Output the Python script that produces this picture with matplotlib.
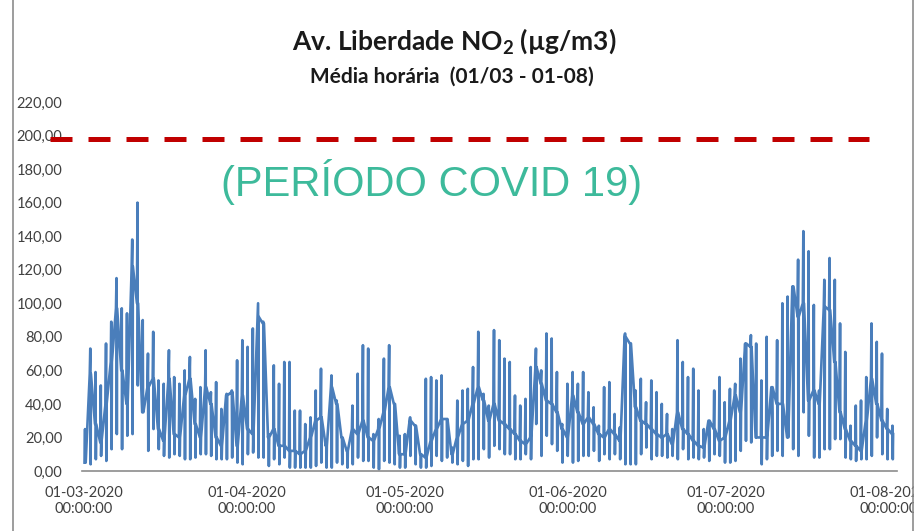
import datetime as dt
import numpy as np
import matplotlib
matplotlib.use("Agg")
import matplotlib.pyplot as plt
import matplotlib.dates as mdates

# picos diários, mínimos e nível médio (µg/m3)
pico = [25, 73, 59, 51, 76, 89, 115, 97, 94, 138,
        160, 90, 70, 83, 54, 52, 72, 56, 52, 60,
        68, 43, 50, 72, 47, 53, 37, 46, 48, 66,
        78, 74, 85, 100, 89, 22, 63, 52, 65, 65,
        36, 36, 28, 32, 48, 61, 18, 57, 42, 20,
        12, 39, 58, 75, 73, 22, 31, 67, 75, 40,
        21, 22, 32, 27, 10, 55, 56, 54, 57, 31,
        14, 42, 48, 49, 62, 83, 46, 39, 84, 78,
        67, 65, 45, 39, 43, 62, 73, 60, 82, 79,
        59, 28, 52, 59, 52, 59, 47, 38, 27, 50,
        53, 34, 26, 82, 76, 48, 55, 41, 54, 47,
        40, 34, 25, 78, 65, 56, 61, 48, 25, 20,
        48, 56, 41, 49, 52, 67, 63, 81, 76, 54,
        80, 35, 78, 100, 104, 87, 126, 143, 131, 99,
        48, 114, 127, 114, 88, 71, 27, 39, 42, 56,
        88, 77, 70, 37, 27]
baixo = [5, 4, 7, 9, 6, 13, 22, 13, 21, 22,
         51, 36, 12, 25, 13, 9, 8, 10, 9, 7,
         7, 8, 10, 10, 9, 7, 7, 7, 8, 5,
         4, 10, 11, 8, 8, 3, 7, 4, 8, 2,
         2, 2, 2, 2, 3, 5, 2, 2, 5, 4,
         2, 4, 8, 6, 6, 2, 1, 6, 5, 4,
         2, 2, 9, 4, 2, 2, 3, 9, 6, 8,
         5, 4, 6, 3, 7, 7, 13, 8, 15, 13,
         10, 10, 7, 7, 10, 7, 28, 9, 21, 16,
         12, 5, 9, 5, 6, 9, 9, 12, 6, 10,
         7, 10, 7, 4, 4, 4, 10, 14, 7, 9,
         9, 8, 9, 7, 13, 7, 8, 7, 8, 6,
         10, 9, 5, 5, 6, 12, 18, 17, 20, 4,
         7, 9, 12, 9, 30, 13, 9, 35, 21, 8,
         8, 13, 13, 19, 19, 8, 7, 6, 7, 7,
         9, 20, 10, 7, 7]
meio = [5, 58, 28, 17, 40, 65, 97, 60, 40, 122,
        100, 35, 50, 55, 25, 18, 55, 22, 20, 45,
        55, 28, 20, 50, 40, 20, 15, 45, 47, 15,
        45, 25, 22, 92, 88, 20, 25, 15, 15, 12,
        12, 10, 12, 20, 30, 32, 15, 50, 40, 20,
        12, 25, 22, 30, 20, 18, 25, 35, 50, 40,
        10, 10, 30, 27, 10, 8, 18, 25, 31, 31,
        10, 20, 28, 30, 40, 50, 42, 30, 40, 30,
        28, 25, 22, 18, 16, 20, 62, 52, 42, 40,
        35, 25, 20, 45, 35, 28, 32, 28, 22, 20,
        25, 22, 18, 80, 76, 38, 30, 28, 25, 22,
        20, 22, 16, 35, 25, 22, 18, 15, 14, 30,
        25, 18, 20, 30, 45, 35, 76, 74, 20, 20,
        20, 50, 40, 40, 20, 110, 92, 100, 42, 48,
        40, 98, 96, 65, 35, 25, 18, 15, 12, 30,
        55, 40, 30, 25, 22]
limite = 198
meses = ["2020-03-01", "2020-04-01", "2020-05-01", "2020-06-01", "2020-07-01", "2020-08-01"]

inicio = dt.datetime(2020, 3, 1)
t0 = mdates.date2num(inicio)
n = len(pico)
dia = 0.2 + np.arange(n) * (153.5 / (n - 1))

xs, ys = [], []
for d, p, b, m in zip(dia, pico, baixo, meio):
    xs += [d - 0.1, d, d + 0.06, d + 0.12]
    ys += [m, p, b, m]
xs = t0 + np.array(xs)

plt.rcParams["font.family"] = ["Lato", "DejaVu Sans"]
plt.rcParams["mathtext.fontset"] = "custom"
plt.rcParams["mathtext.bf"] = "Lato:bold"
plt.rcParams["mathtext.rm"] = "Lato"

W, H = 914, 531
fig = plt.figure(figsize=(W / 100, H / 100), dpi=100)
ax = fig.add_axes([82 / W, 1 - 471 / H, (897 - 82) / W, (471 - 102) / H])

ax.plot(xs, ys, color="#4A7EBB", lw=1.9)
ax.plot([t0 - 6.45, t0 + 149.2], [limite, limite], color="#C00000", lw=3.6,
        dashes=(4.4, 3.2), clip_on=False, solid_capstyle="butt", dash_capstyle="butt")

ax.set_ylim(0, 220)
ax.set_xlim(t0 - 0.38, t0 + 154.56)
ax.set_yticks(np.arange(0, 221, 20))
ax.set_yticklabels([f"{v:.2f}".replace(".", ",") for v in np.arange(0, 221, 20)])
ax.set_xticks([mdates.date2num(dt.datetime.fromisoformat(m)) for m in meses])
ax.xaxis.set_major_formatter(mdates.DateFormatter("%d-%m-%Y\n%H:%M:%S"))
ax.tick_params(length=0, labelsize=10.5, labelcolor="#404040")
ax.tick_params(axis="y", pad=14)
ax.tick_params(axis="x", pad=11)
for s in ["top", "right", "left"]:
    ax.spines[s].set_visible(False)
ax.spines["bottom"].set_color("#8c8c8c")
ax.spines["bottom"].set_linewidth(1.2)

fig.text(454 / W, 1 - 50 / H, r"Av. Liberdade NO$\mathbf{_2}$ (µg/m3)", ha="center",
         va="baseline", fontsize=19, fontweight="bold", color="#1a1a1a")
fig.text(452 / W, 1 - 83 / H, "Média horária  (01/03 - 01-08)", ha="center",
         va="baseline", fontsize=15, fontweight="bold", color="#1a1a1a")
fig.text(432 / W, 1 - 196 / H, "(PERÍODO COVID 19)", ha="center", va="baseline",
         fontsize=30, color="#3DBA9B", family=["Liberation Sans", "DejaVu Sans"])

fig.add_artist(plt.Line2D([12.5 / W, 12.5 / W], [0, 1], color="#8c8c8c", lw=1.2))
fig.add_artist(plt.Line2D([912.5 / W, 912.5 / W], [0, 1], color="#8c8c8c", lw=1.2))

fig.savefig("out.png", dpi=100)
